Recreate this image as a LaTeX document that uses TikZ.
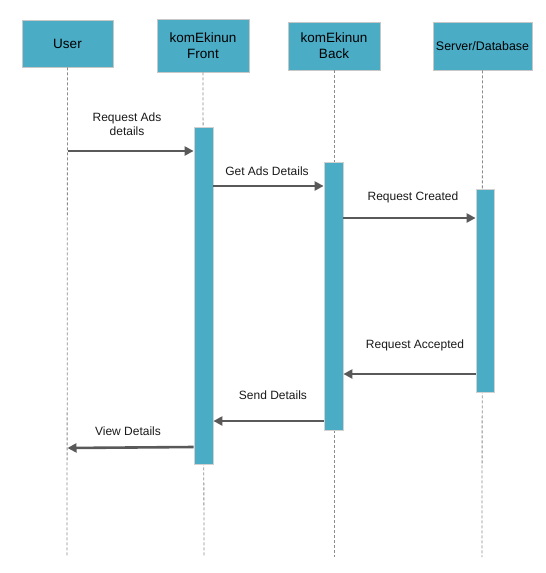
\documentclass[tikz,border=0pt]{standalone}
\usepackage{fontspec}
\setmainfont{Liberation Sans}
\usetikzlibrary{arrows.meta}
\definecolor{teal}{HTML}{4BACC6}
\definecolor{arr}{HTML}{595959}
\tikzset{
  head/.style={draw=black!22, line width=0.8pt, fill=teal, align=center, inner sep=0pt, font=\fontsize{13.5}{16}\selectfont},
  act/.style={draw=black!18, line width=0.8pt, fill=teal, inner sep=0pt, minimum width=19pt},
  life/.style={draw=black!45, dash pattern=on 3pt off 2pt, line width=0.8pt},
  msg/.style={draw=arr, line width=2.6pt, -{Triangle[length=9pt,width=9pt]}, shorten >=0pt},
  lbl/.style={font=\fontsize{12}{14.5}\selectfont, text=black!90, align=center, inner sep=0pt}
}
\begin{document}
\begin{tikzpicture}[x=1pt,y=-1pt]
\useasboundingbox (0,0) rectangle (546,573);
% header boxes
\node[head, minimum width=91pt, minimum height=47pt] (user) at (67.5,43.5) {User};
\node[head, minimum width=92pt, minimum height=53pt] (front) at (203,45.5) {komEkinun\\Front};
\node[head, minimum width=92pt, minimum height=48pt] (back) at (334,46) {komEkinun\\Back};
\node[head, minimum width=99pt, minimum height=48pt, font=\fontsize{12.4}{14}\selectfont] (server) at (482.5,46) {Server/Database};
% lifeline ends
\coordinate (uend) at (67,557);
\coordinate (fend) at (204,557);
\coordinate (bend) at (334,557);
\coordinate (send) at (482,557);
\draw[life] (user.south) -- (uend);
\draw[life] (front.south) -- (fend);
\draw[life] (back.south) -- (bend);
\draw[life] (server.south) -- (send);
% activations
\node[act, minimum height=337pt] (fa) at (203.5,295.5) {};
\node[act, minimum height=268pt] (ba) at (333.5,296) {};
\node[act, minimum height=203pt, minimum width=18pt] (sa) at (485,290.5) {};
% messages
\draw[msg] (user.south |- 0,151) -- (fa.west |- 0,151);
\node[lbl] (l1) at (127,124) {Request Ads\\details};
\draw[msg] (fa.east |- 0,186) -- (ba.west |- 0,186);
\node[lbl] (l2) at (267,171) {Get Ads Details};
\draw[msg] (ba.east |- 0,218) -- (sa.west |- 0,218);
\node[lbl] (l3) at (413,197) {Request Created};
\draw[msg] (sa.west |- 0,374) -- (ba.east |- 0,374);
\node[lbl] (l4) at (415,345) {Request Accepted};
\draw[msg] (ba.west |- 0,421) -- (fa.east |- 0,421);
\node[lbl] (l5) at (273,395) {Send Details};
\draw[msg] (fa.west |- 0,447) -- (user.south |- 0,448);
\node[lbl] (l6) at (128,431) {View Details};
\end{tikzpicture}
\end{document}
